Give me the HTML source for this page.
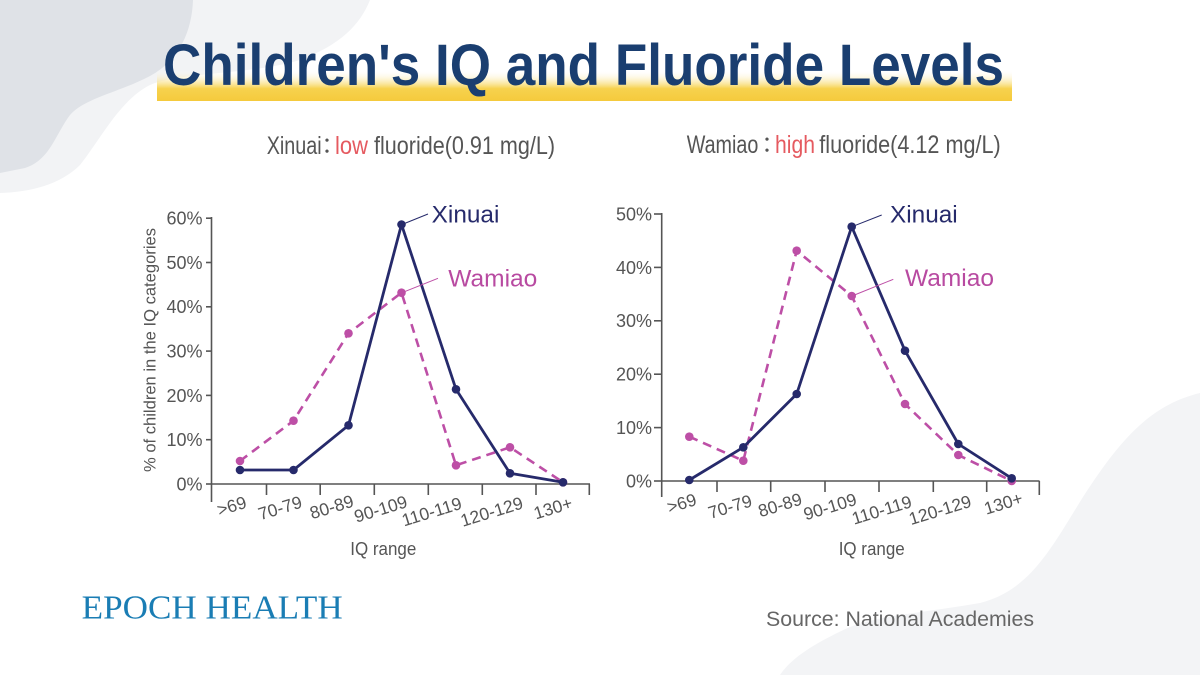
<!DOCTYPE html>
<html><head><meta charset="utf-8"><style>
html,body{margin:0;padding:0;background:#fff;}
svg{display:block;}
</style></head><body>
<svg width="1200" height="675" viewBox="0 0 1200 675" xmlns="http://www.w3.org/2000/svg">
<defs>
<linearGradient id="yb" x1="0" y1="0" x2="0" y2="1">
<stop offset="0" stop-color="#ffffff" stop-opacity="0"/>
<stop offset="0.6" stop-color="#f7d24e"/>
<stop offset="1" stop-color="#f5ca3c"/>
</linearGradient>
</defs>
<rect width="1200" height="675" fill="#ffffff"/>
<!-- background shapes -->
<path d="M0,0 H370 C360,25 340,45 300,60 C250,75 180,72 150,85 C120,100 100,140 80,165 C60,185 30,192 0,193 Z" fill="#f2f3f5"/>
<path d="M0,0 H193 C192,30 180,60 150,76 C120,92 85,98 70,115 C55,135 50,160 25,168 L0,173 Z" fill="#dfe2e7"/>
<path d="M1200,393 C1150,405 1120,440 1083,497 C1050,550 1030,590 980,603 C930,612 880,615 850,627 C810,645 790,660 780,675 H1200 Z" fill="#f3f4f6"/>

<!-- title -->
<rect x="157" y="70" width="855" height="31" fill="url(#yb)"/>
<text x="163" y="85" font-family="Liberation Sans, sans-serif" font-weight="bold" font-size="58" fill="#1a3e70" textLength="841" lengthAdjust="spacingAndGlyphs">Children's IQ and Fluoride Levels</text>

<!-- subtitles -->
<g font-family="Liberation Sans, sans-serif" font-size="25" fill="#555">
<text x="266.7" y="154" textLength="55" lengthAdjust="spacingAndGlyphs">Xinuai</text>
<text x="327" y="154" text-anchor="middle" font-family="Noto Sans CJK TC, sans-serif" font-size="22">：</text>
<text x="335" y="154" textLength="33" lengthAdjust="spacingAndGlyphs" fill="#e55a60">low</text>
<text x="374" y="154" textLength="181" lengthAdjust="spacingAndGlyphs">fluoride(0.91 mg/L)</text>
<text x="686.7" y="153" textLength="71.6" lengthAdjust="spacingAndGlyphs">Wamiao</text>
<text x="767" y="153" text-anchor="middle" font-family="Noto Sans CJK TC, sans-serif" font-size="22">：</text>
<text x="775" y="153" textLength="40" lengthAdjust="spacingAndGlyphs" fill="#e55a60">high</text>
<text x="819.3" y="153" textLength="181.4" lengthAdjust="spacingAndGlyphs">fluoride(4.12 mg/L)</text>
</g>

<!-- LEFT CHART -->
<g stroke="#555" stroke-width="1.6" fill="none">
<line x1="211.5" y1="217" x2="211.5" y2="502"/>
<line x1="211.5" y1="484" x2="590" y2="484"/>
<line x1="206" y1="218.2" x2="211.5" y2="218.2"/>
<line x1="206" y1="262.5" x2="211.5" y2="262.5"/>
<line x1="206" y1="306.8" x2="211.5" y2="306.8"/>
<line x1="206" y1="351.1" x2="211.5" y2="351.1"/>
<line x1="206" y1="395.4" x2="211.5" y2="395.4"/>
<line x1="206" y1="439.7" x2="211.5" y2="439.7"/>
<line x1="206" y1="484" x2="211.5" y2="484"/>
<line x1="266.5" y1="484" x2="266.5" y2="495"/>
<line x1="320.2" y1="484" x2="320.2" y2="495"/>
<line x1="374.3" y1="484" x2="374.3" y2="495"/>
<line x1="428.3" y1="484" x2="428.3" y2="495"/>
<line x1="482.3" y1="484" x2="482.3" y2="495"/>
<line x1="536" y1="484" x2="536" y2="495"/>
<line x1="589.3" y1="484" x2="589.3" y2="495"/>
</g>
<g font-family="Liberation Sans, sans-serif" font-size="18" fill="#555" text-anchor="end">
<text x="202.5" y="224.6">60%</text>
<text x="202.5" y="268.9">50%</text>
<text x="202.5" y="313.2">40%</text>
<text x="202.5" y="357.5">30%</text>
<text x="202.5" y="401.8">20%</text>
<text x="202.5" y="446.1">10%</text>
<text x="202.5" y="490.4">0%</text>
</g>
<g font-family="Liberation Sans, sans-serif" font-size="17.5" fill="#555" text-anchor="middle">
<text x="231.7" y="512" transform="rotate(-17 231.7 506)">&gt;69</text>
<text x="280" y="514" transform="rotate(-17 280 508)">70-79</text>
<text x="331.7" y="513" transform="rotate(-17 331.7 507)">80-89</text>
<text x="380.7" y="515" transform="rotate(-17 380.7 509)">90-109</text>
<text x="431.7" y="517.7" transform="rotate(-17 431.7 511.7)">110-119</text>
<text x="491.7" y="517.7" transform="rotate(-17 491.7 511.7)">120-129</text>
<text x="553" y="514" transform="rotate(-17 553 508)">130+</text>
<text x="383.3" y="555" font-size="18" textLength="66" lengthAdjust="spacingAndGlyphs">IQ range</text>
</g>
<text transform="translate(155.5 350) rotate(-90)" text-anchor="middle" font-family="Liberation Sans, sans-serif" font-size="17" fill="#555" textLength="244" lengthAdjust="spacingAndGlyphs">% of children in the IQ categories</text>

<!-- left series -->
<polyline points="240,461 293.5,420.7 348.5,333.3 401.5,292.7 456,465.3 510,447.3 563,482.3" fill="none" stroke="#bd4fa6" stroke-width="2.6" stroke-dasharray="9,6"/>
<g fill="#bd4fa6">
<circle cx="240" cy="461" r="4.3"/><circle cx="293.5" cy="420.7" r="4.3"/><circle cx="348.5" cy="333.3" r="4.3"/><circle cx="401.5" cy="292.7" r="4.3"/><circle cx="456" cy="465.3" r="4.3"/><circle cx="510" cy="447.3" r="4.3"/><circle cx="563" cy="482.3" r="4.3"/>
</g>
<polyline points="240,470 293.5,470 348.5,425.3 401.5,224.5 456,389.3 510,473.3 563,482.3" fill="none" stroke="#262a6b" stroke-width="2.8" stroke-linejoin="round"/>
<g fill="#262a6b">
<circle cx="240" cy="470" r="4.3"/><circle cx="293.5" cy="470" r="4.3"/><circle cx="348.5" cy="425.3" r="4.3"/><circle cx="401.5" cy="224.5" r="4.3"/><circle cx="456" cy="389.3" r="4.3"/><circle cx="510" cy="473.3" r="4.3"/><circle cx="563" cy="482.3" r="4.3"/>
</g>
<line x1="402" y1="224.5" x2="428" y2="214" stroke="#262a6b" stroke-width="1"/>
<line x1="402" y1="292.7" x2="438" y2="278.3" stroke="#bd4fa6" stroke-width="1"/>
<text x="431.7" y="222.7" font-family="Liberation Sans, sans-serif" font-size="24" fill="#262a6b" textLength="67.7" lengthAdjust="spacingAndGlyphs">Xinuai</text>
<text x="448.3" y="286.7" font-family="Liberation Sans, sans-serif" font-size="24" fill="#b84aa1" textLength="89" lengthAdjust="spacingAndGlyphs">Wamiao</text>

<!-- RIGHT CHART -->
<g stroke="#555" stroke-width="1.6" fill="none">
<line x1="661.7" y1="213" x2="661.7" y2="497"/>
<line x1="661.7" y1="481" x2="1039.5" y2="481"/>
<line x1="654" y1="214" x2="661.7" y2="214"/>
<line x1="654" y1="267.4" x2="661.7" y2="267.4"/>
<line x1="654" y1="320.8" x2="661.7" y2="320.8"/>
<line x1="654" y1="374.2" x2="661.7" y2="374.2"/>
<line x1="654" y1="427.6" x2="661.7" y2="427.6"/>
<line x1="654" y1="481" x2="661.7" y2="481"/>
<line x1="717" y1="481" x2="717" y2="492"/>
<line x1="770.7" y1="481" x2="770.7" y2="492"/>
<line x1="825" y1="481" x2="825" y2="492"/>
<line x1="879" y1="481" x2="879" y2="492"/>
<line x1="933.3" y1="481" x2="933.3" y2="492"/>
<line x1="986.7" y1="481" x2="986.7" y2="492"/>
<line x1="1039.3" y1="481" x2="1039.3" y2="495"/>
</g>
<g font-family="Liberation Sans, sans-serif" font-size="18" fill="#555" text-anchor="end">
<text x="652" y="220.4">50%</text>
<text x="652" y="273.8">40%</text>
<text x="652" y="327.2">30%</text>
<text x="652" y="380.6">20%</text>
<text x="652" y="434">10%</text>
<text x="652" y="487.4">0%</text>
</g>
<g font-family="Liberation Sans, sans-serif" font-size="17.5" fill="#555" text-anchor="middle">
<text x="681.7" y="509.3" transform="rotate(-17 681.7 503.3)">&gt;69</text>
<text x="730" y="512.7" transform="rotate(-17 730 506.7)">70-79</text>
<text x="780" y="511" transform="rotate(-17 780 505)">80-89</text>
<text x="830" y="512.7" transform="rotate(-17 830 506.7)">90-109</text>
<text x="881.7" y="516" transform="rotate(-17 881.7 510)">110-119</text>
<text x="940" y="516" transform="rotate(-17 940 510)">120-129</text>
<text x="1003.3" y="509.3" transform="rotate(-17 1003.3 503.3)">130+</text>
<text x="871.7" y="555" font-size="18" textLength="66" lengthAdjust="spacingAndGlyphs">IQ range</text>
</g>

<!-- right series -->
<polyline points="689.3,436.7 743.3,460.7 796.7,250.7 851.7,296 905,404 958.3,455 1011.7,481" fill="none" stroke="#bd4fa6" stroke-width="2.6" stroke-dasharray="9,6"/>
<g fill="#bd4fa6">
<circle cx="689.3" cy="436.7" r="4.3"/><circle cx="743.3" cy="460.7" r="4.3"/><circle cx="796.7" cy="250.7" r="4.3"/><circle cx="851.7" cy="296" r="4.3"/><circle cx="905" cy="404" r="4.3"/><circle cx="958.3" cy="455" r="4.3"/><circle cx="1011.7" cy="481" r="4.3"/>
</g>
<polyline points="689.3,480 743.3,447.3 796.7,394 851.7,226.7 905,350.7 958.3,444 1011.7,478.3" fill="none" stroke="#262a6b" stroke-width="2.8" stroke-linejoin="round"/>
<g fill="#262a6b">
<circle cx="689.3" cy="480" r="4.3"/><circle cx="743.3" cy="447.3" r="4.3"/><circle cx="796.7" cy="394" r="4.3"/><circle cx="851.7" cy="226.7" r="4.3"/><circle cx="905" cy="350.7" r="4.3"/><circle cx="958.3" cy="444" r="4.3"/><circle cx="1011.7" cy="478.3" r="4.3"/>
</g>
<line x1="852" y1="226.7" x2="881.7" y2="215" stroke="#262a6b" stroke-width="1"/>
<line x1="852" y1="296" x2="893.3" y2="279.3" stroke="#bd4fa6" stroke-width="1"/>
<text x="890" y="222.7" font-family="Liberation Sans, sans-serif" font-size="24" fill="#262a6b" textLength="67.7" lengthAdjust="spacingAndGlyphs">Xinuai</text>
<text x="905" y="286" font-family="Liberation Sans, sans-serif" font-size="24" fill="#b84aa1" textLength="89" lengthAdjust="spacingAndGlyphs">Wamiao</text>

<!-- footer -->
<text x="81.7" y="618.3" font-family="Liberation Serif, serif" font-size="34" fill="#1a7db4" textLength="261" lengthAdjust="spacingAndGlyphs">EPOCH HEALTH</text>
<text x="766" y="626" font-family="Liberation Sans, sans-serif" font-size="21" fill="#666" textLength="268" lengthAdjust="spacingAndGlyphs">Source: National Academies</text>
</svg>
</body></html>
